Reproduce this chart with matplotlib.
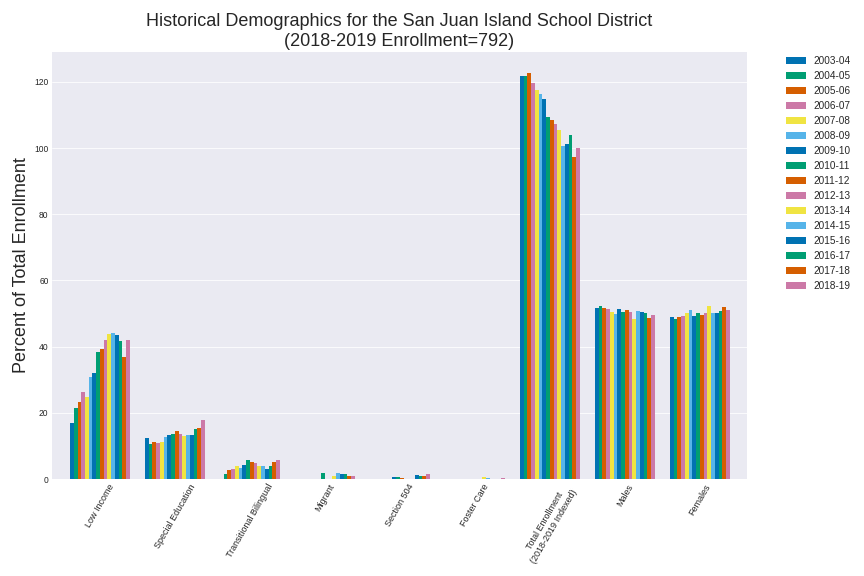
"""San Juan Island SD historical demographics: grouped bars by school year."""
import numpy as np
import matplotlib
matplotlib.use("Agg")
import matplotlib.pyplot as plt

categories = ["Low Income", "Special Education", "Transitional Bilingual", "Migrant",
              "Section 504", "Foster Care", "Total Enrollment\n(2018-2019 Indexed)",
              "Males", "Females"]
years = ["2003-04", "2004-05", "2005-06", "2006-07", "2007-08", "2008-09", "2009-10",
         "2010-11", "2011-12", "2012-13", "2013-14", "2014-15", "2015-16", "2016-17",
         "2017-18", "2018-19"]

# one list per category, one value per school year
low_income = [16.9, 21.4, 23.2, 26.2, 24.7, 30.7, 31.9, 38.3, 39.2, 41.9, 43.7, 44.0,
              43.4, 41.6, 36.8, 41.9]
special_ed = [12.3, 10.5, 11.1, 10.8, 11.1, 12.6, 13.2, 13.5, 14.4, 13.5, 12.9, 13.2,
              13.2, 15.0, 15.3, 17.7]
bilingual = [0.0, 1.6, 2.7, 3.0, 3.9, 3.3, 4.2, 5.7, 5.1, 4.8, 3.9, 3.9, 3.0, 3.9, 5.1, 5.7]
migrant = [0, 0, 0, 0, 0, 0, 0, 1.8, 0, 0, 0.9, 1.8, 1.5, 1.5, 0.9, 0.9]
section_504 = [0, 0, 0, 0, 0, 0, 0.6, 0.6, 0.3, 0, 0, 0, 1.2, 0.9, 0.9, 1.5]
foster_care = [0, 0, 0, 0, 0, 0, 0, 0, 0, 0, 0.6, 0.3, 0, 0, 0, 0.3]
total_enroll = [121.9, 121.9, 122.8, 119.5, 117.4, 116.2, 114.9, 109.5, 108.6, 107.4,
                105.3, 100.7, 101.3, 104.0, 97.4, 100.0]
males = [51.6, 52.2, 51.6, 51.3, 50.4, 49.8, 51.3, 50.4, 51.0, 50.4, 48.3, 50.7, 50.4,
         50.1, 48.6, 49.5]
females = [48.9, 48.3, 48.9, 49.2, 50.1, 51.0, 49.2, 50.1, 49.5, 50.1, 52.2, 50.1, 50.1,
           50.7, 51.9, 51.0]

colors = ["#0072B2", "#009E73", "#D55E00", "#CC79A7", "#F0E442", "#56B4E9"]

plt.style.use("seaborn-v0_8-darkgrid")
plt.rcParams["font.family"] = ["Liberation Sans", "DejaVu Sans"]

data = np.array([low_income, special_ed, bilingual, migrant, section_504, foster_care,
                 total_enroll, males, females])
n_cat, n_yr = data.shape
x = np.arange(n_cat)
w = 0.8 / n_yr

fig, ax = plt.subplots(figsize=(12, 8), dpi=72)
fig.subplots_adjust(left=0.0602, right=0.8646, bottom=0.1684, top=0.9097)
for j, yr in enumerate(years):
    ax.bar(x - 0.4 + w * (j + 0.5), data[:, j], width=w, color=colors[j % 6],
           linewidth=0, label=yr)

ax.xaxis.grid(False)
ax.set_xlim(-0.64, 8.63)
ax.set_ylim(0, 129)
ax.set_xticks(x)
ax.set_xticklabels(categories, rotation=60, fontsize=9)
ax.tick_params(axis="y", labelsize=8.5)
ax.set_ylabel("Percent of Total Enrollment", fontsize=18)
ax.set_title("Historical Demographics for the San Juan Island School District\n"
             "(2018-2019 Enrollment=792)", fontsize=18)
ax.legend(bbox_to_anchor=(1.05, 1), loc=2, borderaxespad=0, fontsize=10)
fig.savefig("out.png", dpi=72)
